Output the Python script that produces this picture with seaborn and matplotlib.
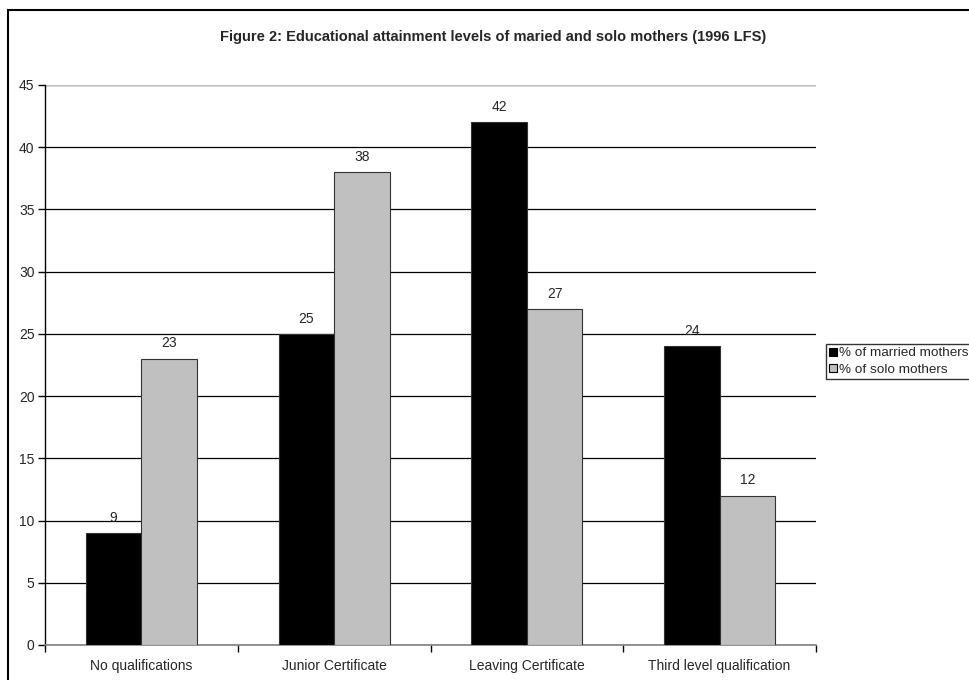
import matplotlib
matplotlib.use("Agg")
import matplotlib.pyplot as plt
import seaborn as sns
import pandas as pd
from matplotlib.patches import Rectangle, Patch

categories = ["No qualifications", "Junior Certificate", "Leaving Certificate", "Third level qualification"]
married = [9, 25, 42, 24]
solo = [23, 38, 27, 12]
series_names = ["% of married mothers", "% of solo mothers"]
title = "Figure 2: Educational attainment levels of maried and solo mothers (1996 LFS)"

sns.set_theme(style="white")
plt.rcParams['font.family'] = ['Liberation Sans', 'DejaVu Sans']

df = pd.DataFrame({
    "cat": categories * 2,
    "val": married + solo,
    "series": [series_names[0]] * 4 + [series_names[1]] * 4,
})

W, H = 969, 680
fig = plt.figure(figsize=(W / 100, H / 100), dpi=100)
fig.patch.set_facecolor("white")
left, right, top, bottom = 45, 816, 85, 645
ax = fig.add_axes([left / W, 1 - bottom / H, (right - left) / W, (bottom - top) / H])

colors = ["#000000", "#c0c0c0"]
sns.barplot(data=df, x="cat", y="val", hue="series", palette=colors, ax=ax,
            width=0.576, edgecolor="#333333", linewidth=0.8, legend=False, zorder=3)

ax.set_ylim(0, 45)
ax.set_xlim(-0.5, 3.5)
ax.set_yticks(range(0, 46, 5))
ax.yaxis.grid(True, color="black", linewidth=0.9, zorder=0)
ax.set_axisbelow(True)
ax.set_xlabel("")
ax.set_ylabel("")
for s in ["top", "right"]:
    ax.spines[s].set_visible(False)
ax.spines["left"].set_color("black")
ax.spines["left"].set_linewidth(1.0)
ax.spines["bottom"].set_color("#808080")
ax.spines["bottom"].set_linewidth(1.2)
ax.axhline(45, color="#c0c0c0", linewidth=1.0, zorder=1)

ax.tick_params(axis="y", direction="out", length=5, width=1, color="black",
               labelsize=10, pad=2.5, left=True)
ax.set_xticks(range(4))
ax.set_xticklabels(categories)
ax.tick_params(axis="x", length=0, labelsize=10, pad=10)
ax.set_xticks([-0.5, 0.5, 1.5, 2.5, 3.5], minor=True)
ax.tick_params(axis="x", which="minor", direction="out", length=5, width=1, color="black", bottom=True)

for c in ax.containers:
    ax.bar_label(c, labels=[f"{v:g}" for v in c.datavalues], padding=6, fontsize=10)

fig.text(493 / W, 1 - 37 / H, title, ha="center", va="center",
         fontsize=10.5, fontweight="bold")

handles = [Patch(facecolor=colors[0], edgecolor="black", linewidth=0.8),
           Patch(facecolor=colors[1], edgecolor="black", linewidth=0.8)]
fig.legend(handles, series_names, loc="upper left",
           bbox_to_anchor=(826 / W, 1 - 344 / H), bbox_transform=fig.transFigure,
           frameon=True, fancybox=False, edgecolor="black", fontsize=9.7,
           handlelength=0.55, handleheight=0.55, handletextpad=0.2,
           borderpad=0.25, borderaxespad=0, labelspacing=0.35)

fig.patches.append(Rectangle((8 / W, -0.1), 1.2, 1 - 10 / H + 0.1, transform=fig.transFigure,
                             fill=False, edgecolor="black", linewidth=1.5, figure=fig))

fig.savefig("out.png", dpi=100)
